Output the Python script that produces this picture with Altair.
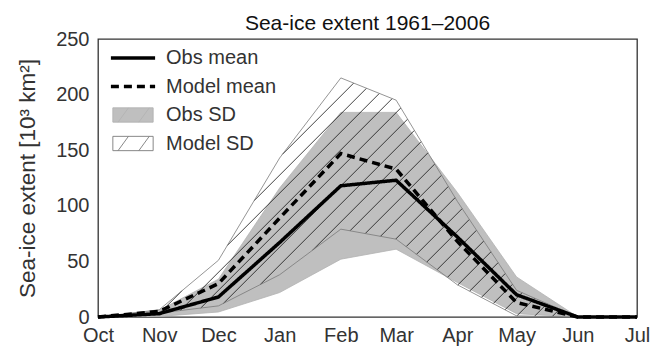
import numpy as np
import pandas as pd
import altair as alt

FONT = "Liberation Sans"

# ---------------- data ----------------
months = ["Oct", "Nov", "Dec", "Jan", "Feb", "Mar", "Apr", "May", "Jun", "Jul"]
month_lengths = [31, 30, 31, 31, 28, 31, 30, 31, 30]          # Oct..Jun
day = [0] + np.cumsum(month_lengths).tolist()                 # first day of each month

obs_mean = [0, 3, 18, 67, 118, 123, 72, 20, 0, 0]
model_mean = [0, 5, 30, 89, 147, 133, 68, 13, 0, 0]
obs_sd_low = [0, 0.5, 4.5, 22, 52, 61, 31, 3, 0, 0]
obs_sd_high = [0, 6, 34, 116, 184, 184, 112, 36, 0, 0]
model_sd_low = [0, 3.5, 10, 38, 79, 70, 29, 1, 0, 0]
model_sd_high = [0, 6.5, 51, 143, 215, 195, 104, 24, 0, 0]

mean_names = ["Obs mean", "Model mean"]
sd_names = ["Obs SD", "Model SD"]

# ---------------- layout ----------------
W, H = 539, 278
X_MAX, Y_MAX = day[-1], 250

band_df = pd.concat([
    pd.DataFrame({"day": day, "lo": obs_sd_low, "hi": obs_sd_high, "sd": "Obs SD"}),
    pd.DataFrame({"day": day, "lo": model_sd_low, "hi": model_sd_high, "sd": "Model SD"}),
], ignore_index=True)
lines_df = pd.concat([
    pd.DataFrame({"day": day, "value": obs_mean, "series": "Obs mean"}),
    pd.DataFrame({"day": day, "value": model_mean, "series": "Model mean"}),
], ignore_index=True)

# ---------------- hatch pattern ("/") clipped to the model SD band ----------------
pxd = W / X_MAX
pxv = H / Y_MAX
gap = 18.0  # px between hatch lines (horizontal)
dd = np.linspace(0, X_MAX, 27301)
lo = np.interp(dd, day, model_sd_low)
hi = np.interp(dd, day, model_sd_high)
c0 = 123 * pxd - 215 * pxv
segs = []
k_min = int(np.floor((-H - c0) / gap)) - 1
k_max = int(np.ceil((W - c0) / gap)) + 1
for k in range(k_min, k_max + 1):
    c = c0 + k * gap
    v = (dd * pxd - c) / pxv
    inside = (v >= lo) & (v <= hi) & (hi - lo > 0.05)
    edges = np.flatnonzero(np.diff(np.concatenate([[0], inside.astype(int), [0]])))
    for s, e in zip(edges[::2], edges[1::2]):
        e = e - 1
        if e > s:
            segs.append({"x": dd[s], "y": v[s], "x2": dd[e], "y2": v[e]})
hatch_df = pd.DataFrame(segs)

# ---------------- encodings ----------------
label_expr = "{}[indexof({}, datum.value)]".format(
    "[" + ",".join("'%s'" % m for m in months) + "]",
    "[" + ",".join(str(d) for d in day) + "]",
)
x_axis = alt.Axis(values=day, labelExpr=label_expr, title=None, labelPadding=8,
                  labelFlush=False, labelOverlap=False, labelBound=False)
y_axis = alt.Axis(values=[0, 50, 100, 150, 200, 250], title="Sea-ice extent [10³ km²]",
                  labelPadding=9, titlePadding=16, titleFontSize=22.5)
xs = alt.Scale(domain=[0, X_MAX], nice=False, zero=False)
ys = alt.Scale(domain=[0, Y_MAX], nice=False)

line_path = "M-3.4,0H3.4"
hatch_rect_path = "M-3.1,-1.1H3.1V1.1H-3.1ZM-2.3,1.1L-0.7,-1.1M0.9,1.1L2.5,-1.1"

sd_legend = alt.Legend(
    title=None, orient="none", legendX=25, legendY=66,
    symbolType=hatch_rect_path, symbolSize=169, symbolStrokeWidth=0.9,
    symbolOpacity=1,
    labelFont=FONT, labelFontSize=20, labelColor="#333333",
    labelOffset=23, rowPadding=8.5, padding=0,
)
mean_legend = alt.Legend(
    title=None, orient="none", legendX=25, legendY=9,
    symbolType=line_path, symbolSize=169, symbolStrokeWidth=3.5,
    labelFont=FONT, labelFontSize=20, labelColor="#333333",
    labelOffset=23, rowPadding=8.5, padding=0,
)

fill_enc = alt.Fill("sd:N", sort=sd_names,
                    scale=alt.Scale(domain=sd_names, range=["#bfbfbf", "transparent"]),
                    legend=sd_legend)
stroke_enc = alt.Stroke("sd:N", sort=sd_names,
                        scale=alt.Scale(domain=sd_names, range=["#b3b3b3", "#7a7a7a"]),
                        legend=sd_legend)

obs_area = alt.Chart(band_df).transform_filter(alt.datum.sd == "Obs SD").mark_area(
    strokeWidth=0.8, opacity=1).encode(
    x=alt.X("day:Q", scale=xs, axis=x_axis),
    y=alt.Y("lo:Q", scale=ys, axis=y_axis),
    y2="hi:Q",
    fill=fill_enc,
    stroke=stroke_enc,
)

hatch = alt.Chart(hatch_df).mark_rule(color="#111111", strokeWidth=0.8).encode(
    x=alt.X("x:Q", scale=xs, axis=x_axis),
    y=alt.Y("y:Q", scale=ys, axis=y_axis),
    x2="x2:Q",
    y2="y2:Q",
)

model_outline = alt.Chart(band_df).transform_filter(alt.datum.sd == "Model SD").mark_area(
    strokeWidth=0.8, opacity=1).encode(
    x=alt.X("day:Q", scale=xs, axis=x_axis),
    y=alt.Y("lo:Q", scale=ys, axis=y_axis),
    y2="hi:Q",
    fill=fill_enc,
    stroke=stroke_enc,
)

lines = alt.Chart(lines_df).mark_line(strokeWidth=3.5, color="#000000").encode(
    x=alt.X("day:Q", scale=xs, axis=x_axis),
    y=alt.Y("value:Q", scale=ys, axis=y_axis),
    strokeDash=alt.StrokeDash("series:N", sort=mean_names,
                              scale=alt.Scale(domain=mean_names, range=[[1, 0], [8, 5]]),
                              legend=mean_legend),
)

chart = alt.layer(obs_area, hatch, model_outline, lines).properties(
    width=W, height=H,
    autosize="none",
    padding={"left": 98, "top": 39, "right": 16, "bottom": 30},
    title=alt.Title("Sea-ice extent 1961–2006", font=FONT, fontSize=21, fontWeight="normal",
                    color="#111111", anchor="middle", offset=-5),
).configure_view(
    stroke="#333333", strokeWidth=1.3
).configure_axis(
    domain=False, ticks=False, grid=False,
    labelFont=FONT, labelFontSize=20, labelColor="#333333",
    titleFont=FONT, titleFontSize=20, titleColor="#333333", titleFontWeight="normal",
)

chart.save("out.html", embed_options={"renderer": "svg", "actions": False})
